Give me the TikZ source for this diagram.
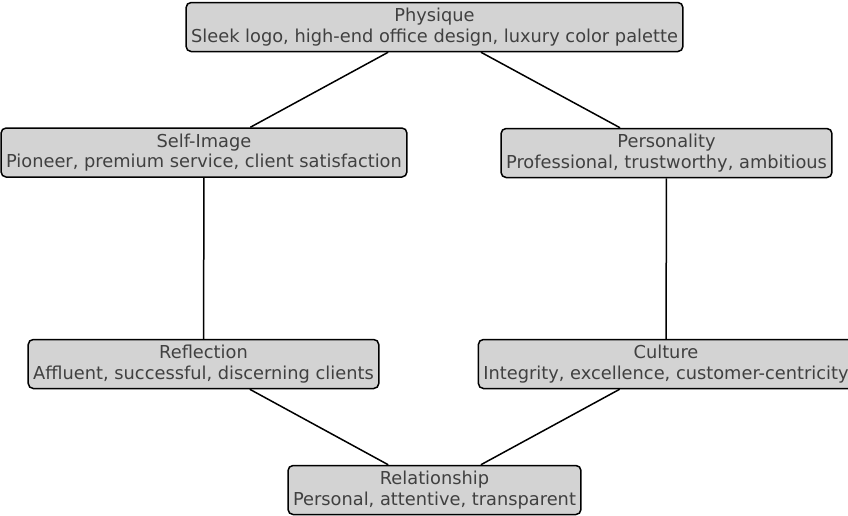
\documentclass[tikz,border=0pt]{standalone}
\usepackage{fontspec}
\setmainfont{DejaVu Sans}
\definecolor{boxfill}{HTML}{D3D3D3}
\definecolor{txt}{HTML}{404040}
\begin{document}
\begin{tikzpicture}[x=1pt,y=-1pt,
  box/.style={draw=black, line width=1.5pt, fill=boxfill, rounded corners=5pt,
    align=center, text=txt, font=\fontsize{17.8}{20.5}\selectfont,
    inner xsep=5pt, inner ysep=0pt, minimum height=49pt},
  link/.style={draw=black, line width=1.5pt}]
\useasboundingbox (0,0) rectangle (848,515);
\node[box] (phys) at (434.5,27) {Physique\\Sleek logo, high-end office design, luxury color palette};
\node[box] (self) at (204,152.5) {Self-Image\\Pioneer, premium service, client satisfaction};
\node[box] (pers) at (666.5,153) {Personality\\Professional, trustworthy, ambitious};
\node[box] (refl) at (203.5,364) {Reflection\\Affluent, successful, discerning clients};
\node[box] (cult) at (666,364) {Culture\\Integrity, excellence, customer-centricity};
\node[box] (rel) at (434.5,490) {Relationship\\Personal, attentive, transparent};
\draw[link] (phys) -- (self);
\draw[link] (phys) -- (pers);
\draw[link] (self) -- (refl);
\draw[link] (pers) -- (cult);
\draw[link] (refl) -- (rel);
\draw[link] (cult) -- (rel);
\end{tikzpicture}
\end{document}
